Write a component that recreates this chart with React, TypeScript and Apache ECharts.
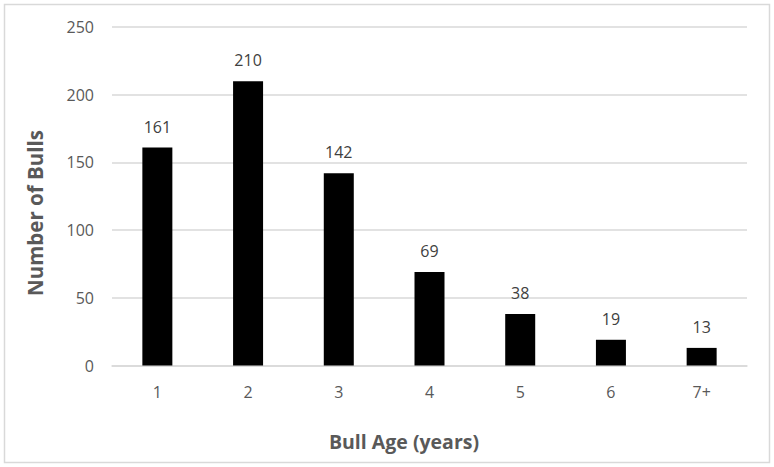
import React, { useEffect, useRef } from "react";
import * as echarts from "echarts";

const categories = ["1", "2", "3", "4", "5", "6", "7+"];
const bullCounts = [161, 210, 142, 69, 38, 19, 13];
const yTicks = { min: 0, max: 250, interval: 50 };
const xTitle = "Bull Age (years)";
const yTitle = "Number of Bulls";

export default function App() {
  const ref = useRef<HTMLDivElement>(null);
  useEffect(() => {
    if (!ref.current) return;
    const chart = echarts.init(ref.current, null, { renderer: "svg" });
    const font = "'Open Sans', 'Liberation Sans', sans-serif";
    chart.setOption({
      animation: false,
      backgroundColor: "#ffffff",
      textStyle: { fontFamily: font },
      graphic: [
        {
          type: "rect",
          shape: { x: 4.5, y: 4.5, width: 765, height: 458 },
          style: { fill: "none", stroke: "#d9d9d9", lineWidth: 1.5 },
          silent: true,
        },
        {
          type: "text",
          x: 404,
          y: 441,
          style: {
            text: xTitle,
            fill: "#595959",
            font: `bold 19.5px ${font}`,
            textAlign: "center",
            textVerticalAlign: "middle",
          },
        },
        {
          type: "text",
          x: 35,
          y: 213,
          rotation: Math.PI / 2,
          style: {
            text: yTitle,
            fill: "#595959",
            font: `bold 20.5px ${font}`,
            textAlign: "center",
            textVerticalAlign: "middle",
          },
        },
      ],
      grid: { left: 112, right: 27, top: 27, bottom: 101.5, containLabel: false },
      xAxis: {
        type: "category",
        data: categories,
        axisLine: { lineStyle: { color: "#d9d9d9", width: 1.5 } },
        axisTick: { show: false },
        axisLabel: { color: "#595959", fontSize: 16, margin: 18, fontFamily: font },
      },
      yAxis: {
        type: "value",
        min: yTicks.min,
        max: yTicks.max,
        interval: yTicks.interval,
        axisLine: { show: false },
        axisTick: { show: false },
        axisLabel: { color: "#595959", fontSize: 16, margin: 18, fontFamily: font },
        splitLine: { lineStyle: { color: "#d9d9d9", width: 1.5 } },
      },
      series: [
        {
          type: "bar",
          data: bullCounts,
          barWidth: 30,
          itemStyle: { color: "#000000" },
          label: {
            show: true,
            position: "top",
            distance: 13,
            color: "#404040",
            fontSize: 16,
            fontFamily: font,
          },
        },
      ],
    });
    return () => chart.dispose();
  }, []);
  return (
    <div
      ref={ref}
      style={{ position: "fixed", left: 0, top: 0, width: 774, height: 467 }}
    />
  );
}
